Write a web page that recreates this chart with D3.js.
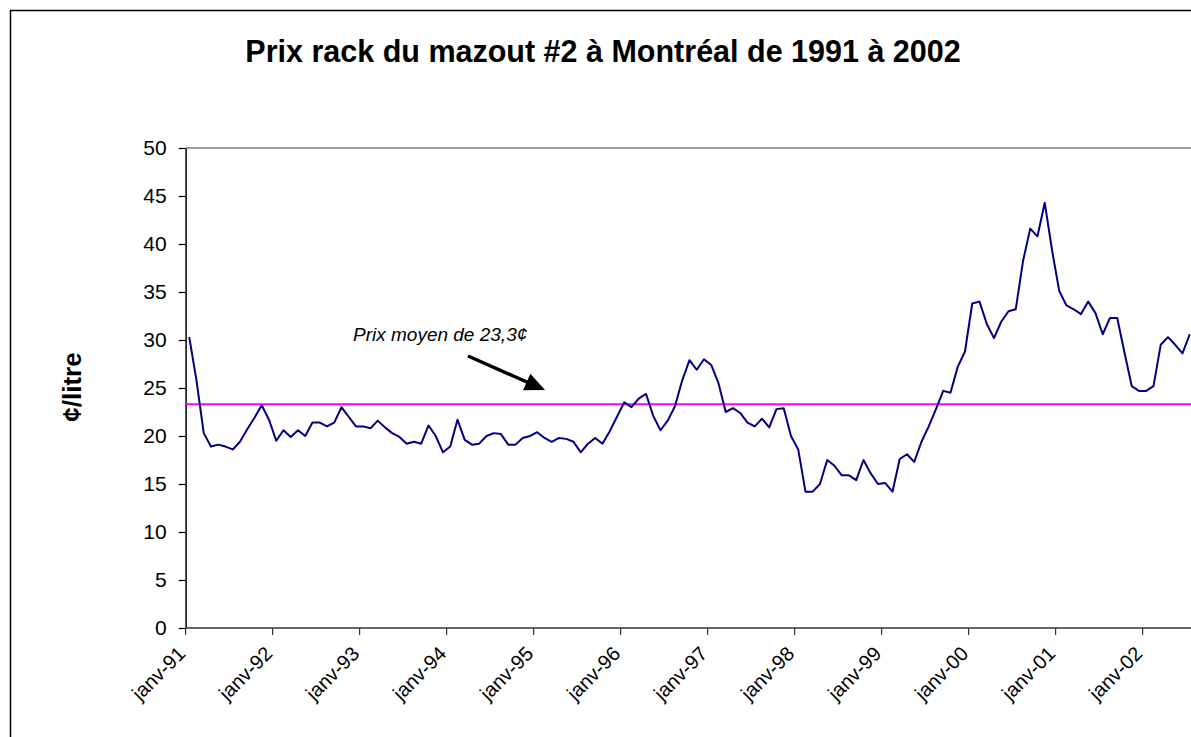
<!DOCTYPE html>
<html>
<head>
<meta charset="utf-8">
<script src="https://cdn.jsdelivr.net/npm/d3@7"></script>
<style>
  body { margin: 0; background: #fff; }
  svg { display: block; font-family: Arial, "Liberation Sans", sans-serif; }
</style>
</head>
<body>
<svg id="chart" width="1191" height="737"></svg>
<script>
// prix mensuels, janv-91 -> juil-02 (cents / litre)
const prices = [
  30.3, 25.8, 20.3, 18.9, 19.1, 18.9, 18.6, 19.4, 20.7, 21.9, 23.2, 21.7,
  19.5, 20.6, 19.9, 20.6, 20.0, 21.4, 21.4, 21.0, 21.4, 23.0, 22.0, 21.0,
  21.0, 20.8, 21.6, 20.9, 20.3, 19.9, 19.2, 19.4, 19.2, 21.1, 20.0, 18.3,
  18.9, 21.7, 19.6, 19.1, 19.2, 20.0, 20.3, 20.2, 19.1, 19.1, 19.8, 20.0,
  20.4, 19.8, 19.4, 19.8, 19.7, 19.4, 18.3, 19.2, 19.8, 19.2, 20.5, 22.0,
  23.5, 23.0, 23.9, 24.4, 22.1, 20.6, 21.6, 23.1, 25.8, 27.9, 26.9, 28.0,
  27.4, 25.5, 22.5, 22.9, 22.4, 21.4, 21.0, 21.8, 20.9, 22.8, 22.9, 20.0,
  18.6, 14.2, 14.2, 15.0, 17.5, 16.9, 15.9, 15.9, 15.4, 17.5, 16.1, 15.0,
  15.1, 14.2, 17.6, 18.1, 17.3, 19.4, 21.0, 22.8, 24.7, 24.5, 27.2, 28.8,
  33.8, 34.0, 31.7, 30.2, 31.9, 33.0, 33.2, 38.2, 41.6, 40.8, 44.3, 39.4,
  35.1, 33.6, 33.2, 32.7, 34.0, 32.8, 30.6, 32.3, 32.3, 28.7, 25.2, 24.7,
  24.7, 25.2, 29.5, 30.3, 29.5, 28.6, 30.6
]
const averagePrice = 23.3
const yearLabels = ["janv-91", "janv-92", "janv-93", "janv-94", "janv-95", "janv-96",
                    "janv-97", "janv-98", "janv-99", "janv-00", "janv-01", "janv-02"]
const yTicks = [0, 5, 10, 15, 20, 25, 30, 35, 40, 45, 50]

const months = prices.map((d, i) => i)

const svg = d3.select('#chart')

const plot = { left: 185.6, top: 148, bottom: 628 }
const monthWidth = 7.25
plot.right = plot.left + prices.length * monthWidth

// cadre du graphique
svg.append('rect')
    .attr('x', 10.5).attr('y', 10.5)
    .attr('width', 1300).attr('height', 900)
    .attr('fill', 'none')
    .attr('stroke', 'black')
    .attr('stroke-width', 1.5)

const xScale = d3.scaleBand()
    .domain(months)
    .range([plot.left, plot.right])
    .padding(0)

const yScale = d3.scaleLinear()
    .domain([0, 50])
    .range([plot.bottom, plot.top])

// bordure de la zone de traçage
svg.append('line')
    .attr('x1', plot.left).attr('x2', plot.right)
    .attr('y1', plot.top).attr('y2', plot.top)
    .attr('stroke', '#808080').attr('stroke-width', 1.5)

// axe Y
const yAxis = svg.append('g')
    .attr('transform', `translate(${plot.left},0)`)
    .call(d3.axisLeft(yScale).tickValues(yTicks).tickSize(7).tickPadding(12).tickSizeOuter(0))
yAxis.select('.domain').attr('stroke', 'black').attr('stroke-width', 1.5)
yAxis.selectAll('.tick line').attr('stroke', 'black').attr('stroke-width', 1.2)
yAxis.selectAll('.tick text')
    .attr('font-size', '21px')
    .attr('font-family', 'Arial, "Liberation Sans", sans-serif')
    .attr('fill', 'black')

// axe X
const xAxis = svg.append('g')
xAxis.append('line')
    .attr('x1', plot.left).attr('x2', plot.right)
    .attr('y1', plot.bottom).attr('y2', plot.bottom)
    .attr('stroke', '#333').attr('stroke-width', 1.5)

const yearTicks = yearLabels.map((label, k) => ({ label: label, idx: k * 12 }))

xAxis.selectAll('.xtick')
    .data(yearTicks)
    .enter()
    .append('line')
    .attr('class', 'xtick')
    .attr('x1', d => xScale(d.idx)).attr('x2', d => xScale(d.idx))
    .attr('y1', plot.bottom).attr('y2', plot.bottom + 7)
    .attr('stroke', '#333').attr('stroke-width', 1.2)

xAxis.selectAll('.xlabel')
    .data(yearTicks)
    .enter()
    .append('text')
    .attr('class', 'xlabel')
    .attr('transform', d => `translate(${xScale(d.idx) + 1},${plot.bottom + 27}) rotate(-45)`)
    .attr('text-anchor', 'end')
    .attr('font-size', '20px')
    .attr('fill', 'black')
    .text(d => d.label)

// titre de l'axe Y
svg.append('text')
    .attr('transform', `translate(81,${(plot.top + plot.bottom) / 2 - 1}) rotate(-90)`)
    .attr('text-anchor', 'middle')
    .attr('font-size', '26px')
    .attr('font-weight', 'bold')
    .text('¢/litre')

// titre
svg.append('text')
    .attr('x', 603)
    .attr('y', 62)
    .attr('text-anchor', 'middle')
    .attr('font-size', '30.5px')
    .attr('font-weight', 'bold')
    .text('Prix rack du mazout #2 à Montréal de 1991 à 2002')

// prix moyen
svg.append('line')
    .attr('x1', plot.left).attr('x2', plot.right)
    .attr('y1', yScale(averagePrice)).attr('y2', yScale(averagePrice))
    .attr('stroke', '#FF00FF').attr('stroke-width', 2)

// série de prix
const line = d3.line()
    .x((d, i) => xScale(i) + xScale.bandwidth() / 2)
    .y(d => yScale(d))

svg.append('path')
    .datum(prices)
    .attr('d', line)
    .attr('fill', 'none')
    .attr('stroke', '#000080')
    .attr('stroke-width', 2)
    .attr('stroke-linejoin', 'round')

// flèche d'annotation
const arrow = { x1: 468, y1: 356, x2: 545, y2: 390, headLen: 20, headHalf: 9 }
const ang = Math.atan2(arrow.y2 - arrow.y1, arrow.x2 - arrow.x1)
const baseX = arrow.x2 - arrow.headLen * Math.cos(ang)
const baseY = arrow.y2 - arrow.headLen * Math.sin(ang)

svg.append('line')
    .attr('x1', arrow.x1).attr('y1', arrow.y1)
    .attr('x2', baseX + 2 * Math.cos(ang)).attr('y2', baseY + 2 * Math.sin(ang))
    .attr('stroke', 'black')
    .attr('stroke-width', 3.5)

svg.append('path')
    .attr('d', d3.line()([
        [arrow.x2, arrow.y2],
        [baseX + arrow.headHalf * Math.sin(ang), baseY - arrow.headHalf * Math.cos(ang)],
        [baseX - arrow.headHalf * Math.sin(ang), baseY + arrow.headHalf * Math.cos(ang)]
    ]) + 'Z')
    .attr('fill', 'black')

svg.append('text')
    .attr('x', 353)
    .attr('y', 341)
    .attr('font-size', '19px')
    .attr('font-style', 'italic')
    .text('Prix moyen de 23,3¢')
</script>
</body>
</html>
